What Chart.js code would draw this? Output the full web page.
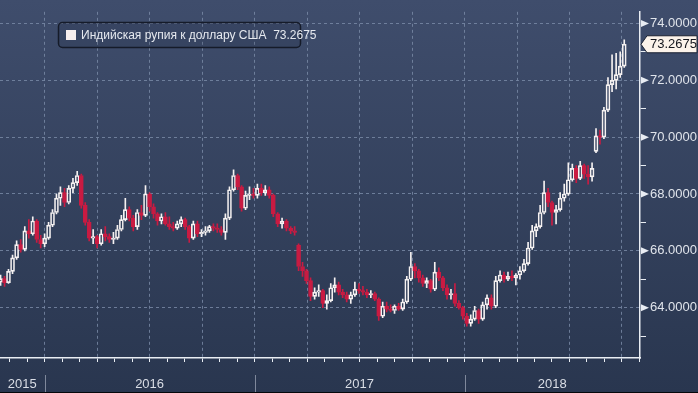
<!DOCTYPE html>
<html>
<head>
<meta charset="utf-8">
<script src="https://cdn.jsdelivr.net/npm/chart.js@4/dist/chart.umd.min.js"></script>
<style>
  html, body { margin: 0; padding: 0; background: #2e3b58; }
  #wrap { width: 698px; height: 393px; }
</style>
</head>
<body>
<div id="wrap"><canvas id="chart" width="698" height="393"></canvas></div>
<script>
// weekly candles, INR per USD
const weeks = [
  '2015-10-16','2015-10-23','2015-10-30','2015-11-06','2015-11-13','2015-11-20','2015-11-27','2015-12-04','2015-12-11','2015-12-18','2015-12-25',
  '2016-01-01','2016-01-08','2016-01-15','2016-01-22','2016-01-29','2016-02-05','2016-02-12','2016-02-19','2016-02-26','2016-03-04','2016-03-11','2016-03-18','2016-03-25',
  '2016-04-01','2016-04-08','2016-04-15','2016-04-22','2016-04-29','2016-05-06','2016-05-13','2016-05-20','2016-05-27','2016-06-03','2016-06-10','2016-06-17','2016-06-24',
  '2016-07-01','2016-07-08','2016-07-15','2016-07-22','2016-07-29','2016-08-05','2016-08-12','2016-08-19','2016-08-26','2016-09-02','2016-09-09','2016-09-16','2016-09-23','2016-09-30',
  '2016-10-07','2016-10-14','2016-10-21','2016-10-28','2016-11-04','2016-11-11','2016-11-18','2016-11-25','2016-12-02','2016-12-09','2016-12-16','2016-12-23','2016-12-30',
  '2017-01-06','2017-01-13','2017-01-20','2017-01-27','2017-02-03','2017-02-10','2017-02-17','2017-02-24','2017-03-03','2017-03-10','2017-03-17','2017-03-24','2017-03-31',
  '2017-04-07','2017-04-14','2017-04-21','2017-04-28','2017-05-05','2017-05-12','2017-05-19','2017-05-26','2017-06-02','2017-06-09','2017-06-16','2017-06-23','2017-06-30',
  '2017-07-07','2017-07-14','2017-07-21','2017-07-28','2017-08-04','2017-08-11','2017-08-18','2017-08-25','2017-09-01','2017-09-08','2017-09-15','2017-09-22','2017-09-29',
  '2017-10-06','2017-10-13','2017-10-20','2017-10-27','2017-11-03','2017-11-10','2017-11-17','2017-11-24','2017-12-01','2017-12-08','2017-12-15','2017-12-22','2017-12-29',
  '2018-01-05','2018-01-12','2018-01-19','2018-01-26','2018-02-02','2018-02-09','2018-02-16','2018-02-23','2018-03-02','2018-03-09','2018-03-16','2018-03-23','2018-03-30',
  '2018-04-06','2018-04-13','2018-04-20','2018-04-27','2018-05-04','2018-05-11','2018-05-18','2018-05-25','2018-06-01','2018-06-08','2018-06-15','2018-06-22','2018-06-29',
  '2018-07-06','2018-07-13','2018-07-20','2018-07-27','2018-08-03','2018-08-10','2018-08-17','2018-08-24','2018-08-31','2018-09-07','2018-09-14','2018-09-21','2018-09-28','2018-10-05'
];

const openP = [
  64.90,65.02,64.88,65.28,65.75,66.22,66.05,66.70,66.60,67.05,66.40,
  66.25,66.45,66.90,67.35,67.85,68.05,67.70,68.20,68.40,68.65,67.60,67.00,66.45,
  66.50,66.25,66.60,66.50,66.40,66.45,66.75,67.10,67.45,67.15,66.85,67.35,67.25,
  68.00,67.55,67.30,67.05,67.20,66.95,66.85,66.80,66.95,67.10,66.85,66.45,66.95,66.60,
  66.65,66.70,66.85,66.80,66.75,66.65,67.15,68.15,68.65,68.25,67.50,67.95,68.00,
  67.95,68.20,68.05,68.15,67.95,67.30,66.95,67.05,66.80,66.70,66.20,65.45,65.30,
  64.95,64.40,64.55,64.60,64.15,64.25,64.70,64.80,64.55,64.45,64.30,64.45,64.65,
  64.60,64.55,64.45,64.50,64.30,63.70,64.05,63.95,63.90,64.05,63.95,64.20,65.00,
  65.45,65.30,65.05,64.85,64.95,64.65,65.25,65.05,64.70,64.45,64.50,64.15,64.00,
  63.70,63.45,63.60,63.90,63.60,64.10,64.35,64.05,64.95,65.15,65.00,65.10,65.05,
  65.15,65.30,65.55,66.10,66.70,66.85,67.35,68.05,67.70,67.35,67.45,67.85,68.00,
  68.50,68.90,68.55,69.00,68.70,68.60,69.50,70.05,70.00,70.95,71.85,72.00,72.20,72.50
];
const highP = [
  65.15,65.10,65.35,65.85,66.35,66.40,66.85,67.10,67.20,67.10,66.55,
  66.60,67.00,67.45,68.00,68.25,68.20,68.30,68.55,68.80,68.70,67.70,67.10,66.75,
  66.55,66.75,66.85,66.60,66.65,66.90,67.25,67.85,67.55,67.25,67.45,67.60,68.30,
  68.05,67.65,67.35,67.30,67.35,67.20,67.00,67.05,67.20,67.15,66.90,67.05,67.05,66.75,
  66.85,66.90,66.95,66.95,66.85,67.30,68.25,68.85,68.70,68.30,68.10,68.25,68.20,
  68.35,68.35,68.30,68.25,68.00,67.35,67.15,67.10,66.85,66.85,66.25,65.60,65.35,
  65.05,64.70,64.80,64.65,64.45,64.85,65.05,64.90,64.65,64.55,64.55,64.90,64.85,
  64.75,64.65,64.60,64.55,64.35,64.20,64.20,64.10,64.10,64.15,64.30,65.10,65.95,
  65.55,65.35,65.15,65.05,65.00,65.60,65.40,65.10,64.80,64.65,64.85,64.25,64.05,
  63.80,63.75,64.05,63.95,64.20,64.45,64.45,65.10,65.30,65.25,65.25,65.30,65.20,
  65.45,65.70,66.30,66.90,66.95,67.60,68.45,68.20,67.75,67.60,68.05,68.35,69.10,
  69.05,69.00,69.15,69.05,69.00,69.10,70.30,70.25,71.05,72.10,72.90,72.95,73.00,73.42
];
const lowP = [
  64.78,64.75,64.85,65.20,65.70,65.95,66.00,66.45,66.55,66.30,66.10,
  66.15,66.40,66.85,67.30,67.60,67.55,67.65,68.05,68.30,67.50,66.90,66.35,66.25,
  66.10,66.20,66.35,66.30,66.25,66.40,66.70,67.05,67.05,66.70,66.75,67.10,67.20,
  67.40,67.15,66.90,66.95,66.90,66.75,66.70,66.75,66.85,66.75,66.30,66.40,66.50,66.50,
  66.55,66.65,66.70,66.65,66.55,66.40,67.10,68.10,68.15,67.40,67.45,67.80,67.85,
  67.85,67.95,67.95,67.85,67.20,66.85,66.80,66.70,66.60,66.55,65.30,65.10,64.85,
  64.25,64.30,64.40,64.00,63.95,64.20,64.55,64.45,64.35,64.20,64.15,64.40,64.50,
  64.45,64.35,64.35,64.25,63.55,63.65,63.85,63.85,63.80,63.90,63.90,64.15,64.95,
  65.05,64.90,64.75,64.70,64.55,64.60,64.95,64.60,64.30,64.30,64.05,63.95,63.60,
  63.35,63.35,63.55,63.45,63.55,63.95,63.95,64.00,64.90,64.90,64.95,64.95,64.80,
  65.00,65.25,65.50,66.05,66.50,66.80,67.30,67.55,66.90,66.95,67.40,67.75,67.95,
  68.45,68.40,68.50,68.55,68.35,68.45,69.45,69.75,69.95,70.90,71.60,71.70,72.10,72.45
];
const closeP = [
  65.02,64.88,65.28,65.75,66.22,66.05,66.70,66.60,67.05,66.40,66.25,
  66.45,66.90,67.35,67.85,68.05,67.70,68.20,68.40,68.65,67.60,67.00,66.45,66.50,
  66.25,66.60,66.50,66.40,66.45,66.75,67.10,67.45,67.15,66.85,67.35,67.25,68.00,
  67.55,67.30,67.05,67.20,66.95,66.85,66.80,66.95,67.10,66.85,66.45,66.95,66.60,66.65,
  66.70,66.85,66.80,66.75,66.65,67.15,68.15,68.65,68.25,67.50,67.95,68.00,67.95,
  68.20,68.05,68.15,67.95,67.30,66.95,67.05,66.80,66.70,66.65,65.45,65.30,64.95,
  64.40,64.55,64.60,64.15,64.25,64.70,64.80,64.55,64.45,64.30,64.45,64.65,64.60,
  64.55,64.45,64.50,64.30,63.70,64.05,63.95,63.90,64.05,63.95,64.20,65.00,65.45,
  65.30,65.05,64.85,64.95,64.65,65.25,65.05,64.70,64.45,64.50,64.15,64.00,63.70,
  63.45,63.60,63.90,63.60,64.10,64.35,64.05,64.95,65.15,65.00,65.10,65.05,65.15,
  65.30,65.55,66.10,66.70,66.85,67.35,68.05,67.70,67.35,67.45,67.85,68.00,68.50,
  68.90,68.55,69.00,68.70,68.60,68.90,70.05,70.00,70.95,71.85,72.00,72.20,72.50,73.2675
];

const yearLabels = ['2015', '2016', '2017', '2018'];
const yearStarts = ['2016-01-01', '2017-01-01', '2018-01-01'];
const seriesName = 'Индийская рупия к доллару США';

const UP = '#f5f1f1';
const DOWN = '#c91b42';
const GRID = 'rgba(120,136,165,0.85)';
const AXIS = '#e9edf3';
const FONT = "'Liberation Sans', Arial, sans-serif";

// date -> fractional months since Jan 2015
function toMonth(s) {
    const [y, m, d] = s.split('-').map(Number);
    const dim = new Date(y, m, 0).getDate();
    return (y - 2015) * 12 + (m - 1) + (d - 1) / dim;
}

const xs = weeks.map(toMonth);
const isUp = closeP.map((c, i) => c >= openP[i]);
const candleColor = isUp.map(u => u ? UP : DOWN);
const lastClose = closeP[closeP.length - 1];

const decor = {
    id: 'decor',
    beforeDraw(chart) {
        const {ctx, width, height} = chart;
        const g = ctx.createLinearGradient(0, 0, 0, height);
        g.addColorStop(0, '#3f4d6c');
        g.addColorStop(1, '#29364f');
        ctx.save();
        ctx.fillStyle = g;
        ctx.fillRect(0, 0, width, height);
        ctx.restore();
    },
    afterDraw(chart) {
        const {ctx, chartArea, scales} = chart;
        const x = scales.x, y = scales.y;
        ctx.save();

        // markers at major y ticks
        ctx.fillStyle = AXIS;
        y.ticks.forEach(t => {
            if (Math.round(t.value) % 2 !== 0) return;
            const py = y.getPixelForValue(t.value);
            ctx.beginPath();
            ctx.moveTo(chartArea.right + 1, py - 3.5);
            ctx.lineTo(chartArea.right + 9, py);
            ctx.lineTo(chartArea.right + 1, py + 3.5);
            ctx.closePath();
            ctx.fill();
        });

        // year separators and labels
        const bounds = [chartArea.left, ...yearStarts.map(s => x.getPixelForValue(toMonth(s))), chartArea.right];
        ctx.strokeStyle = '#7f889b';
        ctx.lineWidth = 1;
        yearStarts.forEach((s, i) => {
            const px = Math.round(bounds[i + 1]) + 0.5;
            ctx.beginPath();
            ctx.moveTo(px, 375);
            ctx.lineTo(px, 393);
            ctx.stroke();
        });
        ctx.fillStyle = '#dadee6';
        ctx.font = '13px ' + FONT;
        ctx.textAlign = 'center';
        ctx.textBaseline = 'middle';
        yearLabels.forEach((lab, i) => {
            ctx.fillText(lab, (bounds[i] + bounds[i + 1]) / 2, 384);
        });

        // legend box
        ctx.beginPath();
        ctx.roundRect(58.5, 22.5, 242, 25, 4);
        ctx.fillStyle = 'rgba(20,28,45,0.12)';
        ctx.fill();
        ctx.strokeStyle = '#151b29';
        ctx.lineWidth = 1.5;
        ctx.stroke();
        ctx.fillStyle = '#f6eeee';
        ctx.fillRect(66, 30, 10, 10);
        ctx.fillStyle = '#e6e9ef';
        ctx.font = '12px ' + FONT;
        ctx.textAlign = 'left';
        ctx.fillText(seriesName + '  ' + lastClose.toFixed(4), 81, 35.5);

        // last price tag
        const py = y.getPixelForValue(lastClose);
        const r = chartArea.right;
        ctx.beginPath();
        ctx.moveTo(r + 1, py);
        ctx.lineTo(r + 7, py - 8.5);
        ctx.lineTo(697, py - 8.5);
        ctx.lineTo(697, py + 8.5);
        ctx.lineTo(r + 7, py + 8.5);
        ctx.closePath();
        ctx.fillStyle = '#fcf3ea';
        ctx.fill();
        ctx.strokeStyle = '#1a2132';
        ctx.lineWidth = 1;
        ctx.stroke();
        ctx.fillStyle = '#14161d';
        ctx.font = '13px ' + FONT;
        ctx.fillText(lastClose.toFixed(4), r + 10, py + 0.5);

        // bottom frame line
        ctx.fillStyle = '#05070b';
        ctx.fillRect(0, 392, chart.width, 1);
        ctx.restore();
    }
};

new Chart(document.getElementById('chart'), {
    type: 'bar',
    data: {
        datasets: [
            {
                label: 'upper wick',
                data: xs.map((v, i) => ({x: v, y: [Math.max(openP[i], closeP[i]), highP[i]]})),
                backgroundColor: candleColor,
                barThickness: 1,
                grouped: false,
                order: 2
            },
            {
                label: 'lower wick',
                data: xs.map((v, i) => ({x: v, y: [lowP[i], Math.min(openP[i], closeP[i])]})),
                backgroundColor: candleColor,
                barThickness: 1,
                grouped: false,
                order: 2
            },
            {
                label: seriesName,
                data: xs.map((v, i) => ({x: v, y: [openP[i], closeP[i]]})),
                backgroundColor: isUp.map(u => u ? 'rgba(0,0,0,0)' : DOWN),
                borderColor: candleColor,
                borderWidth: 1,
                borderSkipped: false,
                barThickness: 4,
                grouped: false,
                order: 1
            }
        ]
    },
    options: {
        responsive: false,
        animation: false,
        devicePixelRatio: 1,
        layout: { padding: { left: 0, right: 0, top: 0, bottom: 31 } },
        plugins: {
            legend: { display: false },
            tooltip: { enabled: false }
        },
        scales: {
            x: {
                type: 'linear',
                min: 9.45,
                max: 46.03,
                offset: false,
                ticks: { display: false, stepSize: 1, includeBounds: false },
                grid: {
                    offset: false,
                    color: c => (c.tick && Math.round(c.tick.value) % 3 === 0) ? GRID : 'rgba(0,0,0,0)',
                    tickColor: AXIS,
                    tickLength: 4
                },
                border: { display: true, color: AXIS, width: 1.5, dash: [3, 3] }
            },
            y: {
                position: 'right',
                min: 62.23,
                max: 74.41,
                beginAtZero: false,
                ticks: {
                    stepSize: 1,
                    includeBounds: false,
                    padding: 4,
                    color: '#e0e4eb',
                    font: { family: FONT, size: 13 },
                    callback: v => Math.round(v) % 2 === 0 ? v.toFixed(4) : ''
                },
                grid: {
                    color: c => (c.tick && Math.round(c.tick.value) % 2 === 0) ? GRID : 'rgba(0,0,0,0)',
                    tickColor: c => (c.tick && Math.round(c.tick.value) % 2 !== 0) ? AXIS : 'rgba(0,0,0,0)',
                    tickLength: 6
                },
                border: { display: true, color: AXIS, width: 1.5, dash: [3, 3] },
                afterFit: s => { s.width = 58; }
            }
        }
    },
    plugins: [decor]
});
</script>
</body>
</html>
